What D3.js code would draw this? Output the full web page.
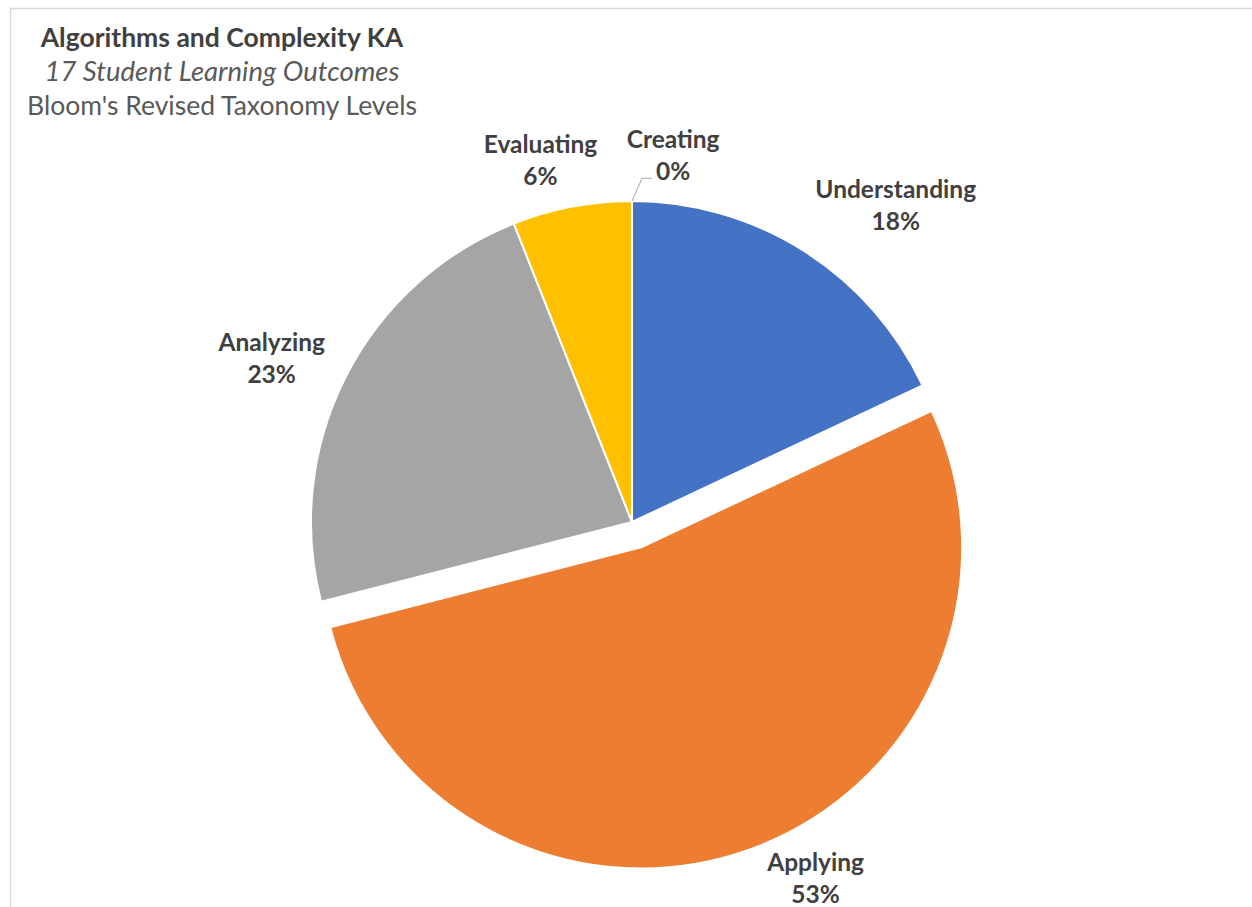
<!DOCTYPE html>
<html>
<head>
<meta charset="utf-8">
<script src="https://cdn.jsdelivr.net/npm/d3@7"></script>
<style>
  html, body { margin: 0; padding: 0; background: #fff; }
  svg { display: block; }
</style>
</head>
<body>
<svg id="chart" width="1252" height="907"></svg>
<script>
// Bloom's revised taxonomy levels for the Algorithms and Complexity KA
const categories = ["Understanding", "Applying", "Analyzing", "Evaluating", "Creating"];
const percents = [18, 53, 23, 6, 0];
const colors = ["#4472C4", "#ED7D31", "#A5A5A5", "#FFC000", "#5B9BD5"];
const titleLines = ["Algorithms and Complexity KA", "17 Student Learning Outcomes", "Bloom's Revised Taxonomy Levels"];
const explodedCategory = "Applying";

const W = 1252, H = 907;
const svg = d3.select("#chart");
const font = "Lato, 'Open Sans', sans-serif";

// chart frame
svg.append("rect")
  .attr("x", 10.5).attr("y", 8.5)
  .attr("width", W).attr("height", H)
  .attr("fill", "#fff").attr("stroke", "#d9d9d9").attr("stroke-width", 1.5);

// title block
const titleStyles = [
  { weight: "bold", style: "normal", fill: "#404040", size: 26.5 },
  { weight: "normal", style: "italic", fill: "#595959", size: 27.5 },
  { weight: "normal", style: "normal", fill: "#595959", size: 26.5 }
];
const title = svg.append("text")
  .attr("text-anchor", "middle")
  .attr("font-family", font);
titleLines.forEach((t, i) => {
  title.append("tspan")
    .attr("x", 222).attr("y", 47 + i * 34)
    .attr("font-size", titleStyles[i].size)
    .attr("font-weight", titleStyles[i].weight)
    .attr("font-style", titleStyles[i].style)
    .attr("fill", titleStyles[i].fill)
    .text(t);
});

// pie geometry
const cx = 632, cy = 522, radius = 321, explode = 27;
const data = categories.map((c, i) => ({ name: c, value: percents[i], color: colors[i] }));
const pie = d3.pie().value(d => d.value).sort(null);
const arcs = pie(data);
const arc = d3.arc().innerRadius(0).outerRadius(radius);

const mid = a => (a.startAngle + a.endAngle) / 2;
const offsetOf = a => a.data.name === explodedCategory ? explode : 0;

const g = svg.append("g").attr("transform", `translate(${cx},${cy})`);

g.selectAll("path.slice")
  .data(arcs.filter(a => a.value > 0))
  .join("path")
  .attr("class", "slice")
  .attr("transform", a => {
    const m = mid(a), o = offsetOf(a);
    return `translate(${o * Math.sin(m)},${-o * Math.cos(m)})`;
  })
  .attr("d", arc)
  .attr("fill", a => a.data.color)
  .attr("stroke", "#fff")
  .attr("stroke-width", 2)
  .attr("stroke-linejoin", "round");

// data label placement: angular nudge (degrees) and distance from the slice centre
const labelLayout = {
  Understanding: { dAngle: 7.4, dist: 412 },
  Applying: { dAngle: -8, dist: 374 },
  Analyzing: { dAngle: -2.5, dist: 396 },
  Evaluating: { dAngle: -3.4, dist: 373 },
  Creating: { dAngle: 6.4, dist: 369 }
};

const labels = g.selectAll("g.label")
  .data(arcs)
  .join("g")
  .attr("class", "label")
  .attr("transform", a => {
    const L = labelLayout[a.data.name];
    const m = mid(a), o = offsetOf(a);
    const ang = m + L.dAngle * Math.PI / 180;
    const x = o * Math.sin(m) + L.dist * Math.sin(ang);
    const y = -o * Math.cos(m) - L.dist * Math.cos(ang);
    return `translate(${x},${y})`;
  });

labels.append("text")
  .attr("text-anchor", "middle")
  .attr("font-family", font)
  .attr("font-weight", "bold")
  .attr("font-size", 24.5)
  .attr("fill", "#404040")
  .selectAll("tspan")
  .data(a => [a.data.name, d3.format(".0%")(a.data.value / 100)])
  .join("tspan")
  .attr("x", 0)
  .attr("y", (d, i) => i === 0 ? -7 : 25)
  .text(d => d);

// leader line for the zero-size slice
arcs.filter(a => a.value === 0).forEach(a => {
  const m = mid(a);
  const L = labelLayout[a.data.name];
  const ang = m + L.dAngle * Math.PI / 180;
  const lx = L.dist * Math.sin(ang), ly = -L.dist * Math.cos(ang);
  const p0 = [radius * Math.sin(m), -radius * Math.cos(m)];
  const p1 = [p0[0] + 10, ly + 23];
  const p2 = [lx - 21, ly + 23];
  g.append("path")
    .attr("d", d3.line()([p0, p1, p2]))
    .attr("fill", "none")
    .attr("stroke", "#a6a6a6")
    .attr("stroke-width", 1);
});
</script>
</body>
</html>
